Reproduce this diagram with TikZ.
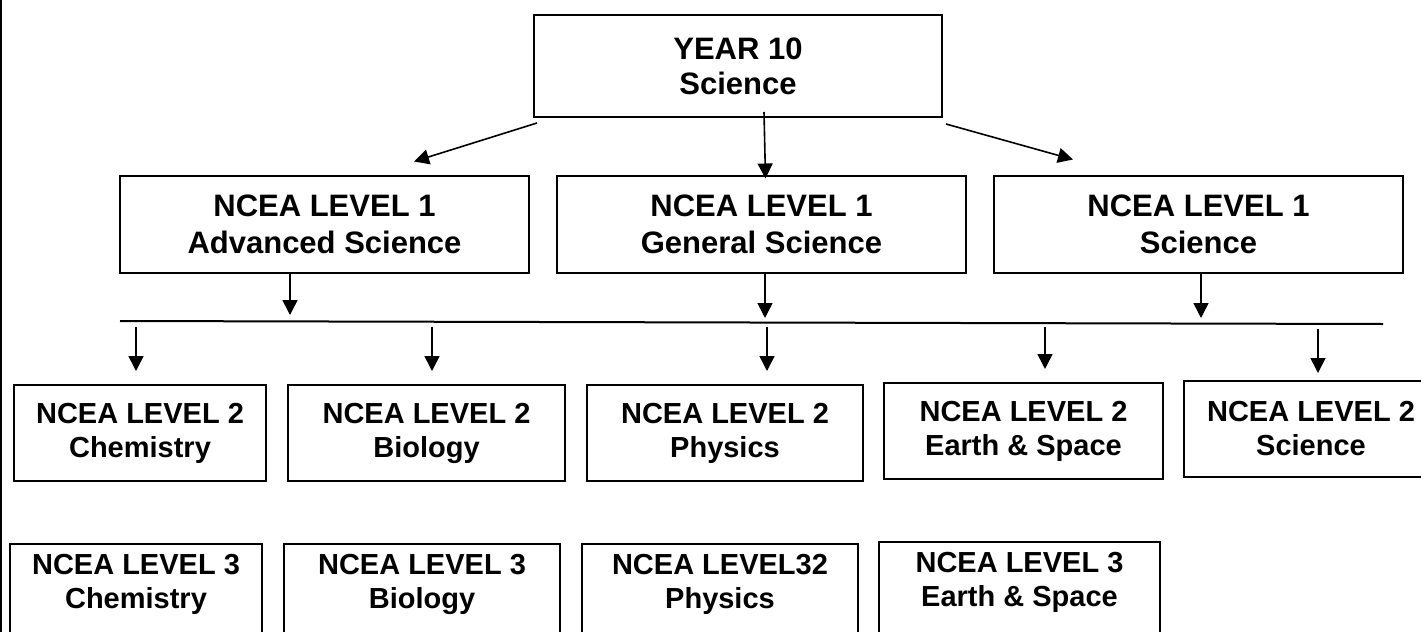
\documentclass[tikz,border=0pt]{standalone}
\usepackage{fontspec}
\setmainfont{Liberation Sans}
\usetikzlibrary{arrows.meta,positioning}

\begin{document}
\begin{tikzpicture}[
  x=0.5pt, y=-0.5pt,
  every node/.style={align=center},
  box/.style={draw=black, line width=1pt, inner sep=0pt},
  topbox/.style={box, font=\fontsize{15.5}{17.5}\selectfont\bfseries, minimum width=204pt, minimum height=51pt},
  lvlone/.style={box, font=\fontsize{15.5}{18.5}\selectfont\bfseries, minimum width=204.5pt, minimum height=48.5pt},
  lvltwo/.style={box, font=\fontsize{14.5}{17}\selectfont\bfseries, minimum height=48pt},
  lvlthree/.style={box, font=\fontsize{14.5}{17}\selectfont\bfseries, inner ysep=5pt, text depth=30pt},
  arr/.style={-{Triangle[length=7.5pt,width=7.5pt]}, line width=0.8pt}
]
\useasboundingbox (0,0) rectangle (1421,632);
\clip (0,0) rectangle (1421,632);
\draw[line width=1pt] (1,0) -- (1,632);

% year 10 and level 1
\node[topbox] (year) at (738,66) {YEAR 10\\Science};
\node[lvlone] (adv) at (324.5,224) {NCEA LEVEL 1\\Advanced Science};
\node[lvlone, right=13pt of adv] (gen) {NCEA LEVEL 1\\General Science};
\node[lvlone, right=13pt of gen] (sci1) {NCEA LEVEL 1\\Science};

% level 2
\node[lvltwo, minimum width=126pt] (chem2) at (140,433) {NCEA LEVEL 2\\Chemistry};
\node[lvltwo, minimum width=138.5pt, right=10pt of chem2] (bio2) {NCEA LEVEL 2\\Biology};
\node[lvltwo, minimum width=138pt, right=10pt of bio2] (phys2) {NCEA LEVEL 2\\Physics};
\node[lvltwo, minimum width=139.5pt, right=9.5pt of phys2, yshift=1pt] (earth2) {NCEA LEVEL 2\\Earth \& Space};
\node[lvltwo, minimum width=127pt, right=9.5pt of earth2, yshift=1pt] (sci2) {NCEA LEVEL 2\\Science};

% level 3
\node[lvlthree, minimum width=126pt, anchor=north] (chem3) at (136,543) {NCEA LEVEL 3\\Chemistry};
\node[lvlthree, minimum width=138pt, right=10pt of chem3] (bio3) {NCEA LEVEL 3\\Biology};
\node[lvlthree, minimum width=138pt, right=10pt of bio3] (phys3) {NCEA LEVEL32\\Physics};
\node[lvlthree, minimum width=140.5pt, right=9.5pt of phys3, yshift=1pt] (earth3) {NCEA LEVEL 3\\Earth \& Space};

% bus line
\coordinate (busL) at (120,321);
\coordinate (busR) at (1383,324);
\draw[line width=1pt] (busL) -- (busR);

\draw[arr] ([xshift=2pt,yshift=-2.5pt]year.south west) -- ([xshift=44.75pt,yshift=6.5pt]adv.north);
\draw[arr] ([xshift=13pt,yshift=3pt]year.south) -- ([xshift=2pt,yshift=-2pt]gen.north);
\draw[arr] ([xshift=1.5pt,yshift=-3pt]year.south east) -- ([xshift=-62.75pt,yshift=7.5pt]sci1.north);

\draw[arr, shorten >=3pt] ([xshift=-17.25pt]adv.south) -- ([xshift=-17.25pt]adv.south |- busL);
\draw[arr, shorten >=1.5pt] ([xshift=1.75pt]gen.south) -- ([xshift=1.75pt]gen.south |- busL);
\draw[arr, shorten >=1.5pt] ([xshift=1.25pt]sci1.south) -- ([xshift=1.25pt]sci1.south |- busL);

\draw[arr, shorten <=3pt, shorten >=6.5pt] ([xshift=-2pt]chem2.north |- busL) -- ([xshift=-2pt]chem2.north);
\draw[arr, shorten <=3pt, shorten >=6.5pt] ([xshift=2.75pt]bio2.north |- busL) -- ([xshift=2.75pt]bio2.north);
\draw[arr, shorten <=3pt, shorten >=6.5pt] ([xshift=21pt]phys2.north |- busL) -- ([xshift=21pt]phys2.north);
\draw[arr, shorten <=3pt, shorten >=6.5pt] ([xshift=10.75pt]earth2.north |- busL) -- ([xshift=10.75pt]earth2.north);
\draw[arr, shorten <=4pt, shorten >=3.5pt] ([xshift=3.5pt]sci2.north |- busL) -- ([xshift=3.5pt]sci2.north);
\end{tikzpicture}
\end{document}
